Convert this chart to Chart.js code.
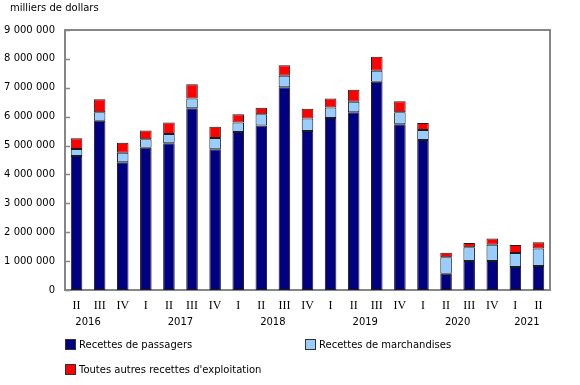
<!DOCTYPE html>
<html>
<head>
<meta charset="utf-8">
<script src="https://cdn.jsdelivr.net/npm/chart.js@4/dist/chart.umd.min.js"></script>
<style>
  html, body { margin: 0; padding: 0; background: #fff; }
  #wrap { width: 580px; height: 385px; }
</style>
</head>
<body>
<div id="wrap"><canvas id="chart" width="580" height="385"></canvas></div>
<script>
// ---------------- DATA (milliers de dollars) ----------------
const quarters = ["II", "III", "IV", "I", "II", "III", "IV", "I", "II", "III", "IV",
                  "I", "II", "III", "IV", "I", "II", "III", "IV", "I", "II"];
const years = ["2016", "2017", "2018", "2019", "2020", "2021"];
const yearCenters = [0.5, 4.5, 8.5, 12.5, 16.5, 19.5]; // index position under the quarters

const passagers = [4640000, 5860000, 4420000, 4920000, 5080000, 6290000, 4870000, 5470000, 5690000, 7020000, 5500000,
                   5950000, 6150000, 7210000, 5740000, 5190000, 560000, 1000000, 1000000, 800000, 830000];
const marchandises = [240000, 290000, 330000, 300000, 320000, 340000, 390000, 330000, 390000, 400000, 440000,
                      370000, 370000, 380000, 410000, 350000, 570000, 480000, 570000, 480000, 610000];
const autres = [370000, 450000, 350000, 300000, 400000, 490000, 390000, 280000, 230000, 360000, 330000,
                310000, 410000, 480000, 380000, 240000, 160000, 150000, 210000, 280000, 210000];

const yTicks = [0, 1000000, 2000000, 3000000, 4000000, 5000000, 6000000, 7000000, 8000000, 9000000];

const FONT = "'DejaVu Sans', Verdana, sans-serif";

function fmt(v) {
    return String(v).replace(/\B(?=(\d{3})+(?!\d))/g, " ");
}

// frame, inner tick marks, year labels, unit label and legend
const decor = {
    id: "decor",
    beforeDatasetsDraw(chart) {
        const { ctx, chartArea: a, scales } = chart;
        ctx.save();
        ctx.strokeStyle = "#868686";
        ctx.lineWidth = 2;
        ctx.strokeRect(a.left, a.top, a.right - a.left, a.bottom - a.top);
        ctx.lineWidth = 1.5;
        yTicks.forEach(t => {
            const y = Math.round(scales.y.getPixelForValue(t)) + 0.5;
            ctx.beginPath();
            ctx.moveTo(a.left, y);
            ctx.lineTo(a.left + 5, y);
            ctx.stroke();
        });
        ctx.restore();
    },
    afterDraw(chart) {
        const { ctx, scales } = chart;
        ctx.save();
        ctx.fillStyle = "#000";
        ctx.font = "10px " + FONT;
        ctx.textAlign = "center";
        ctx.textBaseline = "middle";
        years.forEach((yr, i) => {
            ctx.fillText(yr, scales.x.getPixelForValue(yearCenters[i]), 322);
        });

        ctx.textAlign = "left";
        ctx.fillText("milliers de dollars", 10, 8);

        const spots = [[65, 345], [305, 345], [65, 370]];
        chart.data.datasets.forEach((ds, i) => {
            const [x, y] = spots[i];
            ctx.fillStyle = ds.backgroundColor;
            ctx.fillRect(x, y - 6, 11, 11);
            ctx.strokeStyle = "#333";
            ctx.lineWidth = 1;
            ctx.strokeRect(x + 0.5, y - 5.5, 10, 10);
            ctx.fillStyle = "#000";
            ctx.fillText(ds.label, x + 14, y);
        });
        ctx.restore();
    }
};

const bar = (label, values, color) => ({
    label: label,
    data: values,
    backgroundColor: color,
    borderColor: "#1c1c1c",
    borderWidth: 1,
    borderSkipped: false,
    barPercentage: 0.5,
    categoryPercentage: 1
});

new Chart(document.getElementById("chart"), {
    type: "bar",
    data: {
        labels: quarters,
        datasets: [
            bar("Recettes de passagers", passagers, "#000080"),
            bar("Recettes de marchandises", marchandises, "#99ccff"),
            bar("Toutes autres recettes d'exploitation", autres, "#ff0000")
        ]
    },
    options: {
        responsive: false,
        animation: false,
        layout: { padding: { left: 0, top: 30, right: 30, bottom: 0 } },
        plugins: {
            legend: { display: false },
            tooltip: { enabled: false }
        },
        scales: {
            x: {
                stacked: true,
                grid: { display: false, drawTicks: false },
                border: { display: false },
                ticks: {
                    color: "#000",
                    font: { family: "'Liberation Serif', 'Times New Roman', serif", size: 12 },
                    padding: 9,
                    maxRotation: 0,
                    autoSkip: false
                },
                afterFit: s => { s.height = 95; }
            },
            y: {
                stacked: true,
                min: 0,
                max: 9000000,
                afterBuildTicks: s => { s.ticks = yTicks.map(v => ({ value: v })); },
                grid: { display: false, drawTicks: false },
                border: { display: false },
                ticks: {
                    color: "#000",
                    font: { family: FONT, size: 10 },
                    padding: 10,
                    callback: v => fmt(v)
                },
                afterFit: s => { s.width = 65; }
            }
        }
    },
    plugins: [decor]
});
</script>
</body>
</html>
